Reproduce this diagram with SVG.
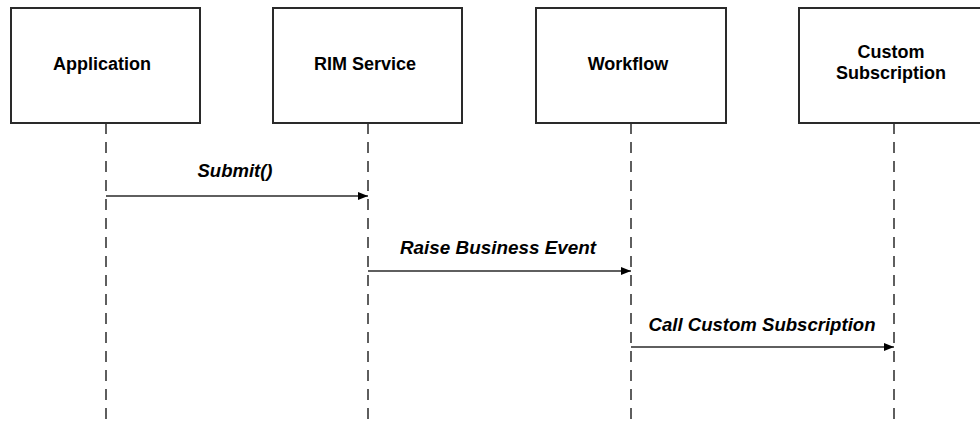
<svg xmlns="http://www.w3.org/2000/svg" width="980" height="421" viewBox="0 0 980 421">
<style>
.box{fill:#fff;stroke:#2a2a2a;stroke-width:2}
.life{stroke:#2a2a2a;stroke-width:1.5;stroke-dasharray:11 8}
.msg{stroke:#2a2a2a;stroke-width:1.5;fill:none}
.nl{font-family:"Liberation Sans",Arial,sans-serif;font-weight:bold;font-size:18px;text-anchor:middle;fill:#000}
.ml{font-family:"Liberation Sans",Arial,sans-serif;font-weight:bold;font-style:italic;font-size:18px;text-anchor:middle;fill:#000}
</style>
<defs>
<marker id="ah" viewBox="0 0 10 8" refX="10" refY="4" markerWidth="10" markerHeight="8" markerUnits="userSpaceOnUse" orient="auto">
<path d="M0,0 L10,4 L0,8 Z" fill="#000"/>
</marker>
</defs>
<rect width="980" height="421" fill="#fff"/>
<g id="lifelines">
<line class="life" x1="106" y1="123" x2="106" y2="421"/>
<line class="life" x1="368" y1="123" x2="368" y2="421"/>
<line class="life" x1="631" y1="123" x2="631" y2="421"/>
<line class="life" x1="894" y1="123" x2="894" y2="421"/>
</g>
<g id="application">
<rect class="box" x="11" y="8" width="189" height="115"/>
<text class="nl" x="102" y="70" textLength="98" lengthAdjust="spacingAndGlyphs">Application</text>
</g>
<g id="rim-service">
<rect class="box" x="273" y="8" width="189" height="115"/>
<text class="nl" x="365" y="70">RIM Service</text>
</g>
<g id="workflow">
<rect class="box" x="536" y="8" width="190" height="115"/>
<text class="nl" x="628" y="70">Workflow</text>
</g>
<g id="custom-subscription">
<rect class="box" x="799" y="8" width="190" height="115"/>
<text class="nl" x="891" y="58">Custom</text>
<text class="nl" x="891" y="79">Subscription</text>
</g>
<g id="connectors">
<line class="msg" x1="106" y1="196" x2="368" y2="196" marker-end="url(#ah)"/>
<text class="ml" x="235" y="177" textLength="75" lengthAdjust="spacingAndGlyphs">Submit()</text>
<line class="msg" x1="368" y1="271" x2="631" y2="271" marker-end="url(#ah)"/>
<text class="ml" x="498" y="254" textLength="196" lengthAdjust="spacingAndGlyphs">Raise Business Event</text>
<line class="msg" x1="631" y1="347" x2="894" y2="347" marker-end="url(#ah)"/>
<text class="ml" x="762" y="331" textLength="227" lengthAdjust="spacingAndGlyphs">Call Custom Subscription</text>
</g>
</svg>
